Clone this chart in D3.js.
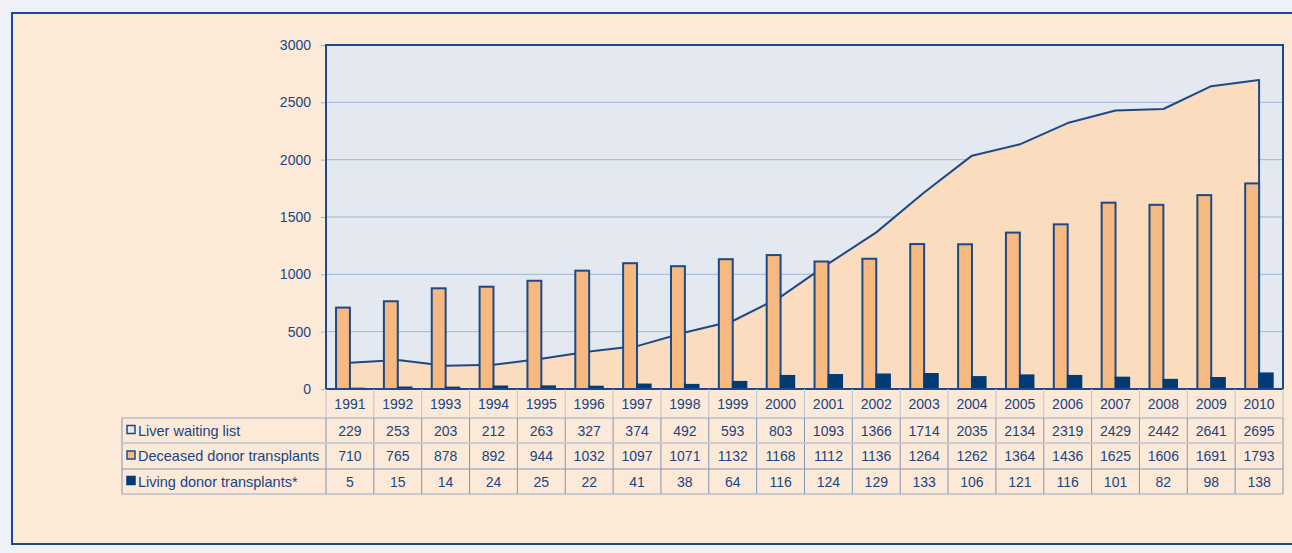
<!DOCTYPE html>
<html>
<head>
<meta charset="utf-8">
<script src="https://cdn.jsdelivr.net/npm/d3@7/dist/d3.min.js"></script>
<style>
  html, body { margin: 0; padding: 0; background: #eef2f6; }
  svg { display: block; font-family: "Liberation Sans", Arial, sans-serif; }
</style>
</head>
<body>
<svg id="chart" width="1292" height="553"></svg>
<script>
// Liver transplant activity, 1991–2010
const years = ["1991","1992","1993","1994","1995","1996","1997","1998","1999","2000",
               "2001","2002","2003","2004","2005","2006","2007","2008","2009","2010"];
const waitingList = [229,253,203,212,263,327,374,492,593,803,1093,1366,1714,2035,2134,2319,2429,2442,2641,2695];
const deceased = [710,765,878,892,944,1032,1097,1071,1132,1168,1112,1136,1264,1262,1364,1436,1625,1606,1691,1793];
const living = [5,15,14,24,25,22,41,38,64,116,124,129,133,106,121,116,101,82,98,138];
const yTicks = [0,500,1000,1500,2000,2500,3000];
const seriesLabels = ["Liver waiting list","Deceased donor transplants","Living donor transplants*"];

const navy = "#1b4a86";
const darkNavy = "#003b78";
const orange = "#f8b981";
const areaFill = "#fcdcbf";
const plotBg = "#e3e8f1";
const frameBg = "#fde9d8";
const gridCol = "#9fb6d0";
const textCol = "#1a4581";

const svg = d3.select("#chart");

// outer panel
svg.append("rect").attr("x", 12).attr("y", 13).attr("width", 1300).attr("height", 531)
  .attr("fill", frameBg).attr("stroke", navy).attr("stroke-width", 2);

const plotLeft = 326, plotRight = 1283, plotTop = 45, plotBottom = 389;
const x = d3.scaleBand().domain(years).range([plotLeft, plotRight]).paddingInner(0).paddingOuter(0);
const y = d3.scaleLinear().domain([0, 3000]).range([plotBottom, plotTop]);
const bw = x.bandwidth() * 0.29;
const cx = d => x(d) + x.bandwidth() / 2;

// plot background
svg.append("rect").attr("x", plotLeft).attr("y", plotTop)
  .attr("width", plotRight - plotLeft).attr("height", plotBottom - plotTop)
  .attr("fill", plotBg);

// gridlines + y axis labels
const yAxis = d3.axisLeft(y).tickValues(yTicks).tickSize(5).tickPadding(10).tickFormat(d3.format("d"));
const gy = svg.append("g").attr("transform", `translate(${plotLeft},0)`).call(yAxis);
gy.select(".domain").remove();
gy.selectAll(".tick line").attr("stroke", gridCol).attr("stroke-width", 1);
gy.selectAll(".tick text").attr("fill", textCol).attr("font-size", 14)
  .attr("font-family", "Liberation Sans, Arial, sans-serif");
svg.append("g").selectAll("line").data(yTicks.filter(t => t > 0 && t < 3000)).join("line")
  .attr("x1", plotLeft).attr("x2", plotRight).attr("y1", d => y(d)).attr("y2", d => y(d))
  .attr("stroke", gridCol).attr("stroke-width", 1);

// waiting list area
const pts = years.map((yr, i) => [cx(yr), y(waitingList[i])]);
const area = d3.area().x(d => d[0]).y0(y(0)).y1(d => d[1]);
svg.append("path").datum(pts).attr("d", area).attr("fill", areaFill);
const outline = d3.line()(pts.concat([[pts[pts.length - 1][0], y(0)]]));
svg.append("path").attr("d", outline).attr("fill", "none").attr("stroke", navy)
  .attr("stroke-width", 2).attr("stroke-linejoin", "round");

// deceased donor bars
svg.append("g").selectAll("rect").data(years).join("rect")
  .attr("x", d => cx(d) - bw).attr("width", bw)
  .attr("y", (d, i) => y(deceased[i])).attr("height", (d, i) => y(0) - y(deceased[i]))
  .attr("fill", orange).attr("stroke", navy).attr("stroke-width", 2);

// living donor bars
svg.append("g").selectAll("rect").data(years).join("rect")
  .attr("x", d => cx(d)).attr("width", bw)
  .attr("y", (d, i) => y(living[i])).attr("height", (d, i) => y(0) - y(living[i]))
  .attr("fill", darkNavy).attr("stroke", darkNavy).attr("stroke-width", 1.5);

// plot frame
svg.append("path")
  .attr("d", `M${plotLeft},${plotBottom}V${plotTop}H${plotRight}V${plotBottom}`)
  .attr("fill", "none").attr("stroke", navy).attr("stroke-width", 2);
svg.append("line").attr("x1", plotLeft).attr("x2", plotRight).attr("y1", plotBottom).attr("y2", plotBottom)
  .attr("stroke", navy).attr("stroke-width", 2);

// data table
const rowEdges = [plotBottom, 418, 443, 469, 494];
const tableLeft = 122;
const light = "#b8c4d4", mid = "#7f97b5";
const tbl = svg.append("g");

// header row separators (years)
tbl.selectAll("line.hv").data(years.slice(1).concat(["end"])).join("line")
  .attr("x1", d => d === "end" ? plotRight : x(d)).attr("x2", d => d === "end" ? plotRight : x(d))
  .attr("y1", rowEdges[0]).attr("y2", rowEdges[1]).attr("stroke", light).attr("stroke-width", 1);
tbl.append("line").attr("x1", plotLeft).attr("x2", plotLeft).attr("y1", rowEdges[0]).attr("y2", rowEdges[1])
  .attr("stroke", light);

// data rows vertical separators
tbl.selectAll("line.dv").data(years.concat(["end"])).join("line")
  .attr("x1", d => d === "end" ? plotRight : x(d)).attr("x2", d => d === "end" ? plotRight : x(d))
  .attr("y1", rowEdges[1]).attr("y2", rowEdges[4]).attr("stroke", mid).attr("stroke-width", 1);
tbl.append("line").attr("x1", tableLeft).attr("x2", tableLeft).attr("y1", rowEdges[1]).attr("y2", rowEdges[4])
  .attr("stroke", mid);

// horizontal rules
[[rowEdges[1], "#9aabc2", 1], [rowEdges[2], "#c9cdd3", 2], [rowEdges[3], mid, 1], [rowEdges[4], "#9aabc2", 1]]
  .forEach(([yy, c, w]) => {
    tbl.append("line").attr("x1", tableLeft).attr("x2", plotRight).attr("y1", yy).attr("y2", yy)
      .attr("stroke", c).attr("stroke-width", w);
  });

// year labels
tbl.selectAll("text.yr").data(years).join("text")
  .attr("x", d => cx(d)).attr("y", (rowEdges[0] + rowEdges[1]) / 2 + 5)
  .attr("text-anchor", "middle").attr("font-size", 14).attr("fill", textCol).text(d => d);

// values
const rows = [waitingList, deceased, living];
rows.forEach((vals, r) => {
  const ym = (rowEdges[r + 1] + rowEdges[r + 2]) / 2 + 5;
  tbl.append("g").selectAll("text").data(vals).join("text")
    .attr("x", (d, i) => cx(years[i])).attr("y", ym)
    .attr("text-anchor", "middle").attr("font-size", 14).attr("fill", textCol).text(d => d);
});

// legend cells
const swatches = [
  { fill: plotBg, stroke: navy },
  { fill: orange, stroke: navy },
  { fill: darkNavy, stroke: darkNavy }
];
seriesLabels.forEach((lab, r) => {
  const ym = (rowEdges[r + 1] + rowEdges[r + 2]) / 2;
  tbl.append("rect").attr("x", 127).attr("y", ym - 5).attr("width", 8).attr("height", 8)
    .attr("fill", swatches[r].fill).attr("stroke", swatches[r].stroke).attr("stroke-width", 1.5);
  tbl.append("text").attr("x", 138).attr("y", ym + 5).attr("font-size", 14.5)
    .attr("fill", textCol).text(lab);
});
</script>
</body>
</html>
